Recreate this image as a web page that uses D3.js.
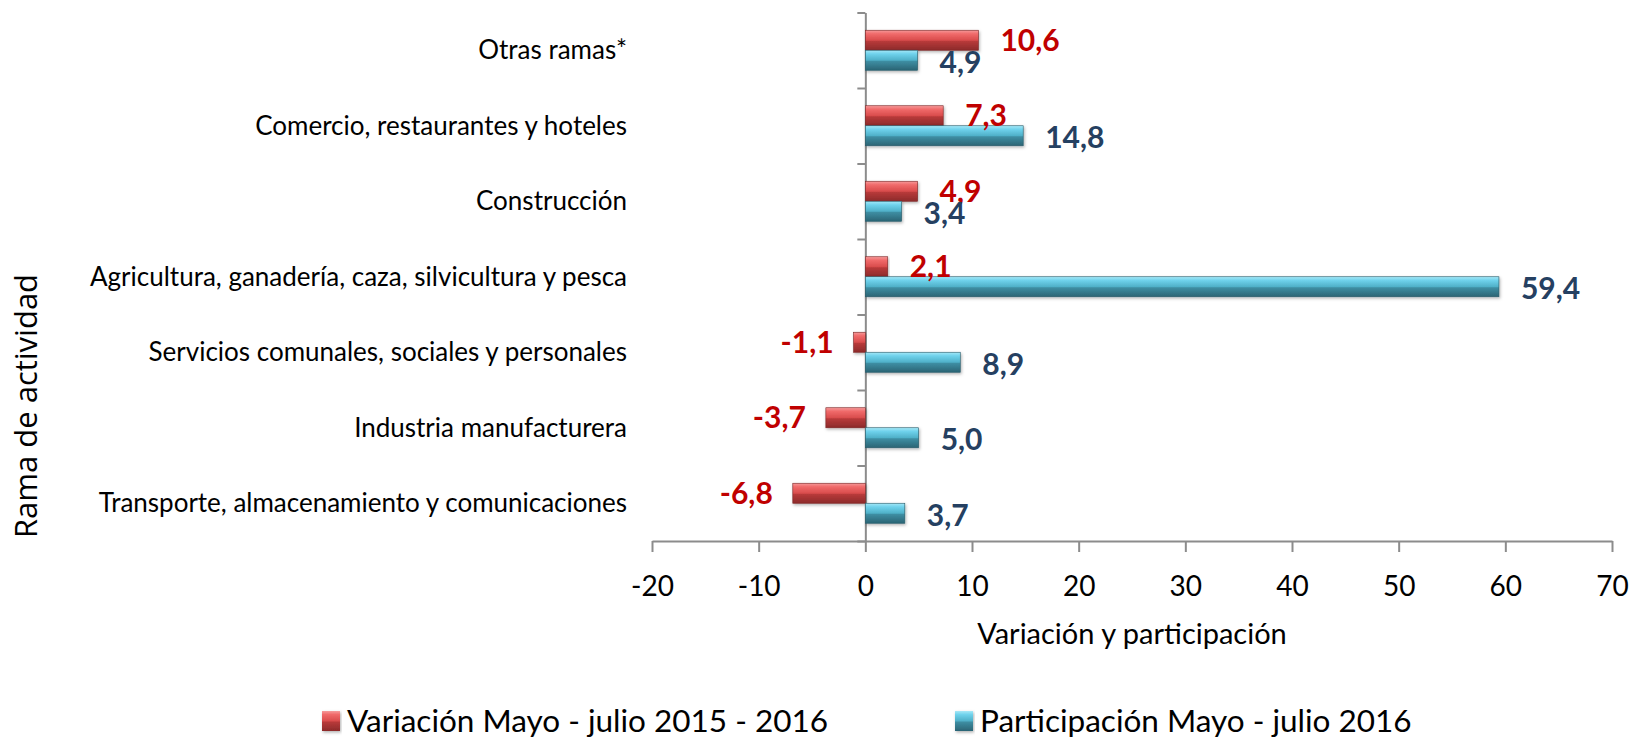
<!DOCTYPE html>
<html>
<head>
<meta charset="utf-8">
<script src="https://cdn.jsdelivr.net/npm/d3@7"></script>
<style>
  body { margin: 0; background: #fff; }
  text { font-family: Lato, "Open Sans", sans-serif; }
</style>
</head>
<body>
<div id="chart"></div>
<script>
// data
var categories = [
  "Otras ramas*",
  "Comercio, restaurantes y hoteles",
  "Construcción",
  "Agricultura, ganadería, caza, silvicultura y pesca",
  "Servicios comunales, sociales y personales",
  "Industria manufacturera",
  "Transporte, almacenamiento y comunicaciones"
];
var variacion = [10.6, 7.3, 4.9, 2.1, -1.1, -3.7, -6.8];
var participacion = [4.9, 14.8, 3.4, 59.4, 8.9, 5.0, 3.7];
var xTicks = [-20, -10, 0, 10, 20, 30, 40, 50, 60, 70];
var seriesNames = ["Variación Mayo - julio 2015 - 2016", "Participación Mayo - julio 2016"];

const W = 1631, H = 739;

var svg = d3.select("#chart").append("svg")
  .attr("width", W).attr("height", H);

var defs = svg.append("defs");
function grad(id, stops) {
  var g = defs.append("linearGradient").attr("id", id)
    .attr("x1", 0).attr("y1", 0).attr("x2", 0).attr("y2", 1);
  stops.forEach(s => g.append("stop").attr("offset", s[0]).attr("stop-color", s[1]));
}
grad("gRed", [[0, "#f59a9a"], [0.18, "#f06a6a"], [0.5, "#d94c4c"], [0.55, "#b83a3a"], [1, "#8c2a2a"]]);
grad("gBlue", [[0, "#a6e8f7"], [0.18, "#6fd2ec"], [0.5, "#4fb0c8"], [0.55, "#3e8ea3"], [1, "#2b6474"]]);

var shadow = defs.append("filter").attr("id", "shadow")
  .attr("x", "-10%").attr("y", "-30%").attr("width", "120%").attr("height", "170%");
shadow.append("feDropShadow").attr("dx", 1).attr("dy", 1.5).attr("stdDeviation", 1.5)
  .attr("flood-color", "#000").attr("flood-opacity", 0.3);

// scales
var x = d3.scaleLinear().domain([-20, 70]).range([652, 1612]);
var y = d3.scaleBand().domain(categories).range([12.5, 541]);
var yIdx = d3.scaleLinear().domain([0, categories.length]).range([12.5, 541]);
var barH = 20;

// comma decimals, plain hyphen for negatives
var fmt = v => d3.format(".1f")(v).replace(".", ",").replace("\u2212", "-");

// x axis
var gx = svg.append("g")
  .attr("transform", "translate(0,541)")
  .call(d3.axisBottom(x).tickValues(xTicks).tickSize(11).tickSizeOuter(0).tickFormat(d => String(d)));
gx.select(".domain").attr("stroke", "#8c8c8c").attr("stroke-width", 2);
gx.selectAll(".tick line").attr("stroke", "#8c8c8c").attr("stroke-width", 2);
gx.selectAll(".tick text")
  .attr("y", 55).attr("dy", 0)
  .style("font-size", "28px").attr("fill", "#000");

// y axis crossing at zero
var gy = svg.append("g")
  .attr("transform", "translate(" + x(0) + ",0)")
  .call(d3.axisLeft(yIdx).tickValues(d3.range(categories.length + 1)).tickSize(8).tickSizeOuter(0).tickFormat(""));
gy.select(".domain").attr("stroke", "#8c8c8c").attr("stroke-width", 2);
gy.selectAll(".tick line").attr("stroke", "#8c8c8c").attr("stroke-width", 2);

// category labels
svg.append("g").selectAll("text")
  .data(categories)
  .join("text")
  .attr("x", 627)
  .attr("y", d => y(d) + y.bandwidth() / 2)
  .attr("dy", "0.35em")
  .attr("text-anchor", "end")
  .style("font-size", "26px")
  .attr("fill", "#000")
  .text(d => d);

// bars
var rows = categories.map((c, i) => ({ cat: c, v: variacion[i], p: participacion[i] }));

var bars = svg.append("g");
bars.selectAll("rect.var")
  .data(rows)
  .join("rect")
  .attr("class", "var")
  .attr("x", d => x(Math.min(0, d.v)))
  .attr("width", d => Math.abs(x(d.v) - x(0)))
  .attr("y", d => y(d.cat) + y.bandwidth() / 2 - barH)
  .attr("height", barH)
  .attr("fill", "url(#gRed)")
  .attr("stroke", "#7a2424").attr("stroke-width", 0.6)
  .attr("filter", "url(#shadow)");

bars.selectAll("rect.par")
  .data(rows)
  .join("rect")
  .attr("class", "par")
  .attr("x", x(0))
  .attr("width", d => x(d.p) - x(0))
  .attr("y", d => y(d.cat) + y.bandwidth() / 2)
  .attr("height", barH)
  .attr("fill", "url(#gBlue)")
  .attr("stroke", "#275a68").attr("stroke-width", 0.6)
  .attr("filter", "url(#shadow)");

// value labels
var labels = svg.append("g").style("font-weight", "bold").style("font-size", "30px");
labels.selectAll("text.var")
  .data(rows)
  .join("text")
  .attr("class", "var")
  .attr("x", d => d.v >= 0 ? x(d.v) + 22 : x(d.v) - 20)
  .attr("text-anchor", d => d.v >= 0 ? "start" : "end")
  .attr("y", d => y(d.cat) + y.bandwidth() / 2 - 10)
  .attr("dy", "0.35em")
  .attr("fill", "#c00000")
  .text(d => fmt(d.v));

labels.selectAll("text.par")
  .data(rows)
  .join("text")
  .attr("class", "par")
  .attr("x", d => x(d.p) + 22)
  .attr("y", d => y(d.cat) + y.bandwidth() / 2 + 12)
  .attr("dy", "0.35em")
  .attr("fill", "#254061")
  .text(d => fmt(d.p));

// axis titles
svg.append("text")
  .attr("x", 1132).attr("y", 644)
  .attr("text-anchor", "middle")
  .style("font-size", "29px")
  .attr("fill", "#000")
  .text("Variación y participación");

svg.append("text")
  .attr("transform", "translate(37,406) rotate(-90)")
  .attr("text-anchor", "middle")
  .style("font-family", "'Open Sans', sans-serif")
  .style("font-size", "31px")
  .attr("fill", "#000")
  .text("Rama de actividad");

// legend
var legendX = [322, 955];
var legendFill = ["url(#gRed)", "url(#gBlue)"];
var leg = svg.append("g").selectAll("g")
  .data(seriesNames)
  .join("g")
  .attr("transform", (d, i) => "translate(" + legendX[i] + ",711)");
leg.append("rect")
  .attr("width", 18).attr("height", 20)
  .attr("fill", (d, i) => legendFill[i])
  .attr("filter", "url(#shadow)");
leg.append("text")
  .attr("x", 25).attr("y", 21)
  .style("font-size", "31.5px")
  .attr("fill", "#000")
  .text(d => d);
</script>
</body>
</html>
